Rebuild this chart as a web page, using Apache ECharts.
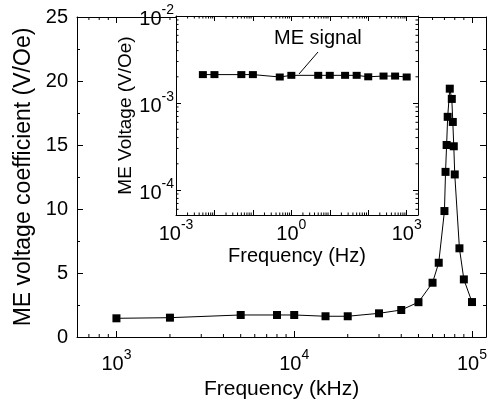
<!DOCTYPE html>
<html>
<head>
<meta charset="utf-8">
<script src="https://cdn.jsdelivr.net/npm/echarts@6/dist/echarts.min.js"></script>
<style>html,body{margin:0;padding:0;background:#fff}#c{width:490px;height:407px}</style>
</head>
<body>
<div id="c"></div>
<script>
// Main plot: ME voltage coefficient vs frequency (kHz)
var freqMain = [1000, 2000, 5000, 8000, 10000, 15000, 20000, 30000, 40000, 50000, 60000, 65000, 70000, 71000, 72000, 73000, 75000, 77000, 78000, 79000, 80000, 85000, 90000, 100000];
var coefMain = [1.46, 1.51, 1.72, 1.72, 1.72, 1.62, 1.62, 1.85, 2.11, 2.72, 4.24, 5.8, 9.84, 12.9, 15.0, 17.2, 19.4, 18.6, 16.8, 14.9, 12.7, 6.93, 4.5, 2.73];
// Inset: ME voltage vs frequency (Hz)
var freqInset = [0.005, 0.01, 0.05, 0.1, 0.5, 1, 5, 10, 25, 50, 100, 250, 500, 1000];
var voltInset = [0.00212, 0.00212, 0.00212, 0.00212, 0.00199, 0.00208, 0.00208, 0.00208, 0.00208, 0.00208, 0.00200, 0.00204, 0.00204, 0.00199];
// Axis ranges and tick labels
var mainXRange = [600, 120000];
var mainYRange = [0, 25];
var insetXRange = [0.001, 1970];
var insetYRange = [0.0000516, 0.01];
var mainXLabelExps = [3, 4, 5];
var insetXLabelExps = [-3, 0, 3];
var insetYLabelExps = [-4, -3, -2];

function logMinorTicks(lo, hi) {
  var out = [];
  var e0 = Math.floor(Math.log10(lo)), e1 = Math.ceil(Math.log10(hi));
  for (var e = e0; e <= e1; e++) {
    for (var m = 2; m <= 9; m++) {
      var v = m * Math.pow(10, e);
      if (v > lo && v < hi) out.push(v);
    }
  }
  return out;
}
var FONT = '"Liberation Sans", Arial, Helvetica, sans-serif';
function powLabel(exps) {
  return function (v) {
    var e = Math.round(Math.log10(v));
    if (Math.abs(Math.log10(v) - e) > 1e-6) return '';
    if (exps.indexOf(e) < 0) return '';
    return '{b|10}{s|' + e + '}';
  };
}
var rich = {
  b: {fontSize: 20, fontFamily: FONT, color: '#000', lineHeight: 26, verticalAlign: 'bottom'},
  s: {fontSize: 14, fontFamily: FONT, color: '#000', lineHeight: 12, verticalAlign: 'top'}
};

function tickSeries(name, values, xi, yi, orient, atVal, len, z) {
  return {
    type: 'custom', name: name, xAxisIndex: xi, yAxisIndex: yi, z: z, silent: true,
    data: values.map(function (v) { return [v]; }),
    renderItem: function (params, api) {
      var v = api.value(0);
      var p, shape;
      if (orient === 'bottom') { p = api.coord([v, atVal]); shape = {x1: p[0], y1: p[1], x2: p[0], y2: p[1] - len}; }
      else if (orient === 'top') { p = api.coord([v, atVal]); shape = {x1: p[0], y1: p[1], x2: p[0], y2: p[1] + len}; }
      else if (orient === 'left') { p = api.coord([atVal, v]); shape = {x1: p[0], y1: p[1], x2: p[0] + len, y2: p[1]}; }
      else { p = api.coord([atVal, v]); shape = {x1: p[0], y1: p[1], x2: p[0] - len, y2: p[1]}; }
      return {type: 'line', shape: shape, style: {stroke: '#000', lineWidth: 1}};
    },
    clip: false
  };
}

var mainXMinor = logMinorTicks(mainXRange[0], mainXRange[1]);
var insetXMinor = logMinorTicks(insetXRange[0], insetXRange[1]);
var insetYMinor = logMinorTicks(insetYRange[0], insetYRange[1]);

var AXLINE = {show: true, onZero: false, lineStyle: {color: '#000', width: 1}};

var chart = echarts.init(document.getElementById('c'), null, {renderer: 'canvas'});
var option = {
  animation: false,
  backgroundColor: '#fff',
  textStyle: {fontFamily: FONT, color: '#000'},
  grid: [
    {left: 77, top: 17, right: 3, bottom: 70},
    {left: 176, top: 16, right: 72, bottom: 192, show: true, backgroundColor: '#fff', borderWidth: 0, z: 5}
  ],
  xAxis: [
    {type: 'log', gridIndex: 0, min: mainXRange[0], max: mainXRange[1], logBase: 10, position: 'bottom',
     axisLine: AXLINE,
     axisTick: {show: true, inside: true, length: 6, lineStyle: {color: '#000'}},
     axisLabel: {formatter: powLabel(mainXLabelExps), rich: rich, margin: 11, showMinLabel: true, showMaxLabel: true},
     splitLine: {show: false},
     name: 'Frequency (kHz)', nameLocation: 'middle', nameGap: 42,
     nameTextStyle: {fontSize: 21, fontFamily: FONT, color: '#000'}},
    {type: 'log', gridIndex: 0, min: mainXRange[0], max: mainXRange[1], logBase: 10, position: 'top',
     axisLine: AXLINE,
     axisTick: {show: true, inside: true, length: 6, lineStyle: {color: '#000'}},
     axisLabel: {show: false}, splitLine: {show: false}},
    {type: 'log', gridIndex: 1, min: insetXRange[0], max: insetXRange[1], logBase: 10, position: 'bottom', z: 6,
     axisLine: AXLINE,
     axisTick: {show: true, inside: true, length: 5, lineStyle: {color: '#000'}},
     axisLabel: {formatter: powLabel(insetXLabelExps), rich: rich, margin: 3, showMinLabel: true, showMaxLabel: true},
     splitLine: {show: false},
     name: 'Frequency (Hz)', nameLocation: 'middle', nameGap: 31,
     nameTextStyle: {fontSize: 20, fontFamily: FONT, color: '#000'}},
    {type: 'log', gridIndex: 1, min: insetXRange[0], max: insetXRange[1], logBase: 10, position: 'top', z: 6,
     axisLine: AXLINE,
     axisTick: {show: true, inside: true, length: 5, lineStyle: {color: '#000'}},
     axisLabel: {show: false}, splitLine: {show: false}}
  ],
  yAxis: [
    {type: 'value', gridIndex: 0, min: mainYRange[0], max: mainYRange[1], interval: 5, position: 'left',
     axisLine: AXLINE,
     axisTick: {show: true, inside: true, length: 6, lineStyle: {color: '#000'}},
     minorTick: {show: true, splitNumber: 2, length: 3, lineStyle: {color: '#000'}},
     axisLabel: {fontSize: 20, fontFamily: FONT, color: '#000', margin: 9},
     splitLine: {show: false}, minorSplitLine: {show: false},
     name: 'ME voltage coefficient (V/Oe)', nameLocation: 'middle', nameGap: 40,
     nameTextStyle: {fontSize: 23, fontFamily: FONT, color: '#000'}},
    {type: 'value', gridIndex: 0, min: mainYRange[0], max: mainYRange[1], interval: 5, position: 'right',
     axisLine: AXLINE,
     axisTick: {show: true, inside: true, length: 6, lineStyle: {color: '#000'}},
     minorTick: {show: true, splitNumber: 2, length: 3, lineStyle: {color: '#000'}},
     axisLabel: {show: false}, splitLine: {show: false}},
    {type: 'log', gridIndex: 1, min: insetYRange[0], max: insetYRange[1], logBase: 10, position: 'left', z: 6,
     axisLine: AXLINE,
     axisTick: {show: true, inside: true, length: 5, lineStyle: {color: '#000'}},
     axisLabel: {formatter: powLabel(insetYLabelExps), rich: rich, margin: 2, showMinLabel: true, showMaxLabel: true},
     splitLine: {show: false},
     name: 'ME Voltage (V/Oe)', nameLocation: 'middle', nameGap: 37,
     nameTextStyle: {fontSize: 19, fontFamily: FONT, color: '#000'}},
    {type: 'log', gridIndex: 1, min: insetYRange[0], max: insetYRange[1], logBase: 10, position: 'right', z: 6,
     axisLine: AXLINE,
     axisTick: {show: true, inside: true, length: 5, lineStyle: {color: '#000'}},
     axisLabel: {show: false}, splitLine: {show: false}}
  ],
  series: [
    tickSeries('mxb', mainXMinor, 0, 0, 'bottom', mainYRange[0], 3, 1),
    tickSeries('mxt', mainXMinor, 0, 0, 'top', mainYRange[1], 3, 1),
    tickSeries('ixb', insetXMinor, 2, 2, 'bottom', insetYRange[0], 2.5, 7),
    tickSeries('ixt', insetXMinor, 2, 2, 'top', insetYRange[1], 2.5, 7),
    tickSeries('iyl', insetYMinor, 2, 2, 'left', insetXRange[0], 2.5, 7),
    tickSeries('iyr', insetYMinor, 2, 2, 'right', insetXRange[1], 2.5, 7),
    {type: 'line', name: 'main', xAxisIndex: 0, yAxisIndex: 0, z: 3,
     data: freqMain.map(function (f, i) { return [f, coefMain[i]]; }),
     symbol: 'rect', symbolSize: 8, showAllSymbol: true,
     itemStyle: {color: '#000'}, lineStyle: {color: '#000', width: 1}},
    {type: 'line', name: 'ME signal', xAxisIndex: 2, yAxisIndex: 2, z: 8,
     data: freqInset.map(function (f, i) { return [f, voltInset[i]]; }),
     symbol: 'rect', symbolSize: [8, 7], showAllSymbol: true,
     itemStyle: {color: '#000'}, lineStyle: {color: '#000', width: 1}}
  ],
  graphic: [
    {type: 'text', z: 100, left: 274, top: 28, style: {text: 'ME signal', fontSize: 20, fontFamily: FONT, fill: '#000'}},
    {type: 'line', z: 100, shape: {x1: 299, y1: 74, x2: 318, y2: 52}, style: {stroke: '#000', lineWidth: 1}}
  ]
};
chart.setOption(option);
</script>
</body>
</html>
